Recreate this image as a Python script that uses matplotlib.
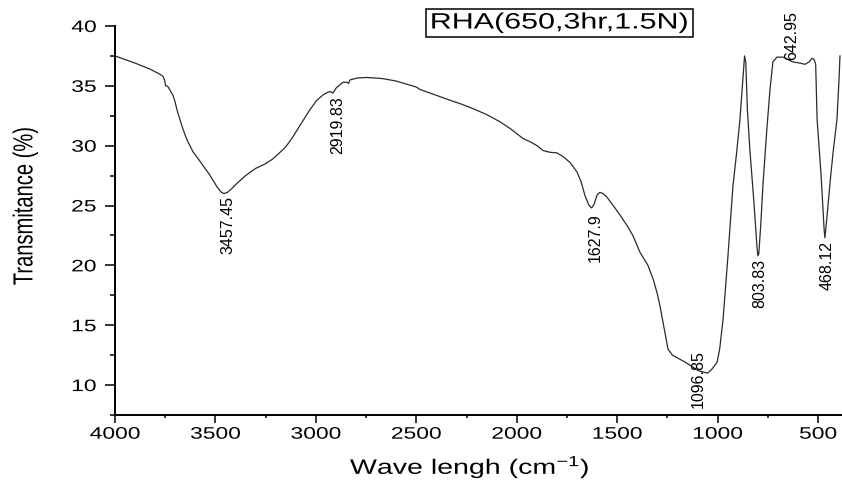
"""FTIR spectrum of rice husk ash, RHA(650, 3 hr, 1.5 N).

Run:    python plot.py
Output: out.png
"""

import matplotlib
matplotlib.use("Agg")
import matplotlib.pyplot as plt
from matplotlib.patches import Rectangle
from matplotlib.patheffects import AbstractPathEffect
from matplotlib.ticker import FixedLocator, MultipleLocator
from matplotlib.transforms import Affine2D

plt.rcParams["font.family"] = ["Liberation Sans", "DejaVu Sans"]
plt.rcParams["mathtext.fontset"] = "custom"
plt.rcParams["mathtext.rm"] = "Liberation Sans"
plt.rcParams["mathtext.it"] = "Liberation Sans:italic"
plt.rcParams["mathtext.bf"] = "Liberation Sans:bold"

# spectrum (wavenumber cm-1, transmittance %)
WAVENUMBER = [
    4000, 3950, 3900, 3826, 3780, 3761, 3752, 3748, 3742, 3735, 3725, 3711,
    3700, 3690, 3675, 3662, 3642, 3612, 3577, 3530, 3490, 3470, 3457, 3440,
    3420, 3390, 3350, 3300, 3250, 3214, 3194, 3150, 3120, 3094, 3060, 3030,
    2995, 2960, 2935, 2925, 2915, 2900, 2880, 2865, 2845, 2838, 2830, 2795,
    2750, 2700, 2666, 2600, 2500, 2482, 2400, 2333, 2280, 2218, 2150, 2084,
    2030, 1969, 1930, 1899, 1870, 1835, 1800, 1770, 1735, 1700, 1680, 1660,
    1640, 1627, 1615, 1600, 1586, 1570, 1551, 1520, 1490, 1450, 1422, 1387,
    1347, 1320, 1300, 1287, 1265, 1247, 1225, 1203, 1160, 1123, 1097, 1073,
    1050, 1030, 1003, 990, 973, 950, 924, 905, 889, 875, 866, 860,
    852, 839, 820, 804, 800, 795, 785, 775, 755, 740, 725, 705,
    675, 650, 625, 590, 565, 545, 530, 520, 512, 505, 485, 470,
    466, 455, 440, 425, 406, 396, 391,
]
TRANSMITTANCE = [
    37.5, 37.2, 36.9, 36.4, 36.0, 35.8, 35.4, 35.0, 35.0, 34.9, 34.6, 34.2,
    33.6, 32.9, 32.1, 31.4, 30.5, 29.5, 28.7, 27.6, 26.5, 26.1, 26.0, 26.1,
    26.4, 26.9, 27.5, 28.1, 28.5, 28.9, 29.2, 29.9, 30.6, 31.3, 32.2, 33.0,
    33.8, 34.3, 34.5, 34.5, 34.4, 34.8, 35.1, 35.3, 35.3, 35.2, 35.5, 35.65,
    35.7, 35.65, 35.6, 35.4, 34.9, 34.7, 34.2, 33.8, 33.5, 33.1, 32.6, 32.0,
    31.4, 30.6, 30.3, 30.0, 29.6, 29.45, 29.4, 29.1, 28.6, 27.8, 27.0, 25.8,
    25.0, 24.8, 25.1, 25.9, 26.1, 26.0, 25.7, 25.0, 24.3, 23.3, 22.5, 21.1,
    20.0, 18.8, 17.6, 16.6, 14.6, 13.0, 12.5, 12.3, 11.9, 11.5, 11.2, 11.1,
    11.0, 11.3, 11.9, 13.0, 15.5, 20.5, 26.6, 29.5, 32.2, 35.5, 37.5, 37.0,
    33.0, 29.5, 25.4, 21.5, 20.8, 21.0, 23.5, 26.6, 31.4, 34.6, 37.0, 37.4,
    37.4, 37.2, 37.0, 36.9, 36.8, 37.0, 37.3, 37.2, 36.8, 32.2, 27.5, 23.0,
    22.3, 24.2, 27.0, 29.5, 32.2, 35.5, 37.5,
]

PEAK_LABELS = ["3457.45", "2919.83", "1627.9", "1096.85", "803.83", "642.95", "468.12"]
PEAK_X = [3437, 2890, 1611, 1098, 789, 630, 456]
PEAK_Y = [25.9, 34.2, 24.4, 13.0, 20.6, 37.25, 22.1]

X_TICKS = [4000, 3500, 3000, 2500, 2000, 1500, 1000, 500]
Y_TICKS = [10, 15, 20, 25, 30, 35, 40]

SAMPLE = "RHA(650,3hr,1.5N)"
W, H = 842, 481


class Stretch(AbstractPathEffect):
    """Scale glyphs about their own centre; the reference text is drawn wide."""

    def __init__(self, sx=1.0, sy=1.0):
        super().__init__()
        self.sx, self.sy = sx, sy

    def draw_path(self, renderer, gc, tpath, affine, rgbFace=None):
        ext = tpath.get_extents()
        cx, cy = ext.x0 + ext.width / 2, ext.y0 + ext.height / 2
        scale = Affine2D().translate(-cx, -cy).scale(self.sx, self.sy).translate(cx, cy)
        renderer.draw_path(gc, tpath, scale + affine, rgbFace)


WIDE = [Stretch(sx=1.37)]

fig = plt.figure(figsize=(W / 100, H / 100), dpi=100)
ax = fig.add_axes([115 / W, (H - 416) / H, (W - 115) / W, (416 - 27) / H])

ax.plot(WAVENUMBER, TRANSMITTANCE, color="#2b2b2b", lw=0.9)

for lab, x, y in zip(PEAK_LABELS, PEAK_X, PEAK_Y):
    va = "bottom" if lab == "642.95" else "top"
    ax.text(x, y, lab, rotation=90, ha="center", va=va, fontsize=11.5, color="black")

ax.set_xlim(4000, 381)
ax.set_ylim(7.5, 40)
ax.xaxis.set_major_locator(FixedLocator(X_TICKS))
ax.xaxis.set_minor_locator(MultipleLocator(250))
ax.yaxis.set_major_locator(FixedLocator(Y_TICKS))
ax.yaxis.set_minor_locator(MultipleLocator(2.5))
ax.set_xticklabels([str(t) for t in X_TICKS])
ax.set_yticklabels([str(t) for t in Y_TICKS])

ax.spines[["top", "right"]].set_visible(False)
ax.spines[["left", "bottom"]].set_linewidth(1.4)
ax.tick_params(axis="y", which="major", direction="out", length=7.2, width=1.1, pad=8.5, labelsize=12)
ax.tick_params(axis="y", which="minor", direction="out", length=3.6, width=1.1)
ax.tick_params(axis="x", which="major", direction="out", length=5.4, width=1.1, pad=3, labelsize=12)
ax.tick_params(axis="x", which="minor", direction="out", length=2.5, width=1.1)
for t in ax.xaxis.get_major_ticks() + ax.yaxis.get_major_ticks():
    t.label1.set_path_effects(WIDE)

fig.text(470 / W, 6 / H, "Wave lengh (cm$^{-1}$)", ha="center", va="baseline",
         fontsize=15, path_effects=WIDE)
fig.text(25 / W, (H - 207) / H, "Transmitance (%)", rotation=90, ha="center", va="center",
         fontsize=14.5, path_effects=[Stretch(sy=1.37)])

# sample tag, boxed above the plot
fig.patches.append(Rectangle((426 / W, (H - 38) / H), 267 / W, 28 / H, transform=fig.transFigure,
                             fill=False, ec="black", lw=1.1))
fig.text(559.5 / W, (H - 24) / H, SAMPLE, ha="center", va="center", fontsize=16, path_effects=WIDE)

fig.savefig("out.png", dpi=100)
